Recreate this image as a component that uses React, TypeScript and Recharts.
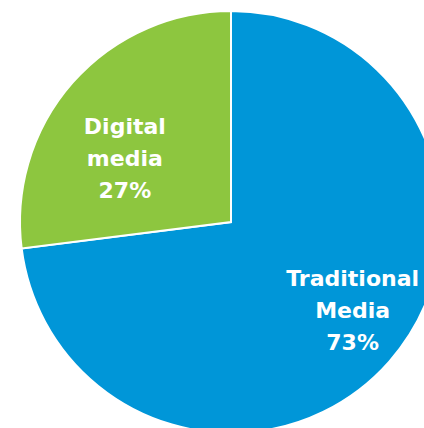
import { PieChart, Pie, Cell } from "recharts";

const CATEGORIES = ["Traditional Media", "Digital media"];
const SHARES = [73, 27];
const COLORS = ["#0096d8", "#8dc63f"];

// label placement tweaks, per slice (angle offset in degrees, radius share)
const LABEL_POS = [
  { da: 5.7, r: 0.71 },
  { da: 9.9, r: 0.59 },
];

const data = CATEGORIES.map((name, i) => ({ name, value: SHARES[i] }));

const RADIAN = Math.PI / 180;

const renderLabel = (props: any) => {
  const { cx, cy, midAngle, outerRadius, index, name, value } = props;
  const pos = LABEL_POS[index];
  const a = (midAngle + pos.da) * RADIAN;
  const x = cx + outerRadius * pos.r * Math.cos(a);
  const y = cy - outerRadius * pos.r * Math.sin(a);
  const words = String(name).split(" ");
  const lines = [...words, `${value}%`];
  return (
    <text
      x={x}
      y={y}
      fill="#ffffff"
      textAnchor="middle"
      fontFamily="'DejaVu Sans', sans-serif"
      fontWeight="bold"
      fontSize={22}
    >
      {lines.map((l, k) => (
        <tspan key={k} x={x} y={y + (k - 1) * 32 + 9}>
          {l}
        </tspan>
      ))}
    </text>
  );
};

export default function App() {
  return (
    <div style={{ position: "absolute", left: 0, top: 0 }}>
      <PieChart width={424} height={428} margin={{ top: 0, right: 0, bottom: 0, left: 0 }}>
        <Pie
          data={data}
          dataKey="value"
          nameKey="name"
          cx={231}
          cy={222}
          outerRadius={211}
          startAngle={90}
          endAngle={-270}
          stroke="#ffffff"
          strokeWidth={2}
          label={renderLabel}
          labelLine={false}
          isAnimationActive={false}
        >
          {data.map((entry, i) => (
            <Cell key={entry.name} fill={COLORS[i]} />
          ))}
        </Pie>
      </PieChart>
    </div>
  );
}
